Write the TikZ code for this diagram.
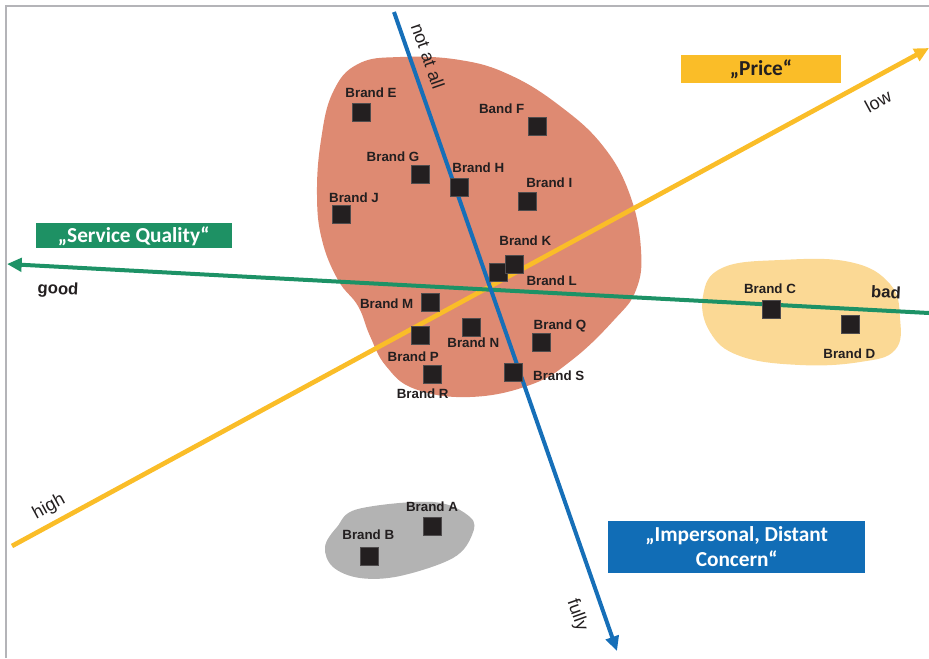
\documentclass[tikz,border=0pt]{standalone}
\usepackage{fontspec}
\setmainfont{Liberation Sans}
\newfontfamily\boxfont{Carlito}
\usetikzlibrary{arrows.meta}

\definecolor{ink}{HTML}{231F20}
\definecolor{framegray}{HTML}{B4B4B8}
\definecolor{blobsalmon}{HTML}{DE8A72}
\definecolor{blobsand}{HTML}{FBD995}
\definecolor{blobgray}{HTML}{B3B3B3}
\definecolor{axisblue}{HTML}{166FB8}
\definecolor{axisgreen}{HTML}{1D9266}
\definecolor{axisorange}{HTML}{FABD28}
\definecolor{boxblue}{HTML}{116DB6}
\definecolor{boxgreen}{HTML}{1E9164}

\tikzset{
  axis/.style={line width=3pt, -{Triangle[length=11pt,width=10pt]}},
  brandbox/.style={fill=ink, draw=ink!80!white, line width=0.3pt, minimum size=13.5pt, inner sep=0pt},
  brandlabel/.style={text=ink, inner sep=0pt, font=\bfseries\fontsize{10}{12}\selectfont},
  axislabel/.style={text=ink, inner sep=0pt, font=\fontsize{13.5}{16}\selectfont},
  polelabel/.style={text=ink, inner sep=0pt, font=\bfseries\fontsize{12.5}{14}\selectfont},
  titlebox/.style={inner sep=0pt, align=center, font=\boxfont\bfseries\fontsize{16}{19}\selectfont}
}

\begin{document}
\begin{tikzpicture}[x=0.75pt, y=-0.75pt]
\useasboundingbox (0,0) rectangle (929,658);

% frame along the top and left edges
\draw[framegray, line width=1.5pt] (6,658) -- (6,5.5) -- (929,5.5);

% brand clusters
\fill[blobsalmon] plot[smooth cycle, tension=0.7] coordinates {
  (400,57) (460,60) (510,75) (560,106) (603,146) (630,195) (641,250)
  (636,290) (614,320) (572,360) (530,385) (470,397) (415,389) (386,366)
  (370,336) (358,306) (338,280) (322,240) (317,195) (321,140) (333,92) (358,64)};
\fill[blobsand] plot[smooth cycle, tension=0.7] coordinates {
  (722,268) (780,260) (850,262) (890,284) (900,318) (895,350) (860,362)
  (800,365) (740,356) (710,332) (703,296)};
\fill[blobgray] plot[smooth cycle, tension=0.6] coordinates {
  (358,509) (433,502) (470,517) (472,535) (453,558) (400,576) (360,578)
  (333,567) (325,547) (337,527)};

% axes
\coordinate (blueStart) at (394,12);
\coordinate (blueEnd) at (617,651);
\coordinate (greenStart) at (929,313);
\coordinate (greenEnd) at (7,264);
\coordinate (orangeStart) at (12,546);
\coordinate (orangeEnd) at (929,48);
\draw[axis, axisorange, line width=3.5pt] (orangeStart) -- (orangeEnd);
\draw[axis, axisgreen] (greenStart) -- (greenEnd);
\draw[axis, axisblue] (blueStart) -- (blueEnd);

% axis pole labels
\node[axislabel, rotate=-70.7] (notatall) at (428,56) {not at all};
\node[axislabel, rotate=-70.7] (fully) at (577,615) {fully};
\node[axislabel, rotate=28.5] (low) at (878,101) {low};
\node[axislabel, rotate=28.5] (high) at (49,507) {high};
\node[polelabel, rotate=-3] (good) at (58,290) {good};
\node[polelabel, rotate=-3] (bad) at (886,292) {bad};

% dimension titles
\node[titlebox, fill=axisorange, text=ink, minimum width=120pt, minimum height=21.2pt] (price) at (761,69.2) {„Price“};
\node[titlebox, fill=boxgreen, text=white, minimum width=146.8pt, minimum height=18.8pt] (service) at (133.8,235.8) {„Service Quality“};
\node[titlebox, fill=boxblue, text=white, minimum width=192.5pt, minimum height=38.8pt] (concern) at (736.7,546.8) {„Impersonal, Distant\\Concern“};

% brand markers
\node[brandbox] (sqE) at (360.7,111.7) {};
\node[brandbox] (sqF) at (537.3,125.7) {};
\node[brandbox] (sqG) at (420,174.3) {};
\node[brandbox] (sqH) at (459,186.7) {};
\node[brandbox] (sqI) at (526.7,200.7) {};
\node[brandbox] (sqJ) at (341.3,214.3) {};
\node[brandbox] (sqL) at (497.7,271.7) {};
\node[brandbox] (sqK) at (514.3,264) {};
\node[brandbox] (sqM) at (430,302.3) {};
\node[brandbox] (sqP) at (420,335) {};
\node[brandbox] (sqN) at (470.7,326.7) {};
\node[brandbox] (sqQ) at (541,342.3) {};
\node[brandbox] (sqR) at (432,374) {};
\node[brandbox] (sqS) at (513.3,372.3) {};
\node[brandbox] (sqC) at (770.7,309) {};
\node[brandbox] (sqD) at (850,324) {};
\node[brandbox] (sqA) at (432,525.7) {};
\node[brandbox] (sqB) at (369.3,555.7) {};

% brand names
\node[brandlabel] (lbE) at (371,92.7) {Brand E};
\node[brandlabel] (lbF) at (501.7,108.3) {Band F};
\node[brandlabel] (lbG) at (393,156.7) {Brand G};
\node[brandlabel] (lbH) at (478.3,167.7) {Brand H};
\node[brandlabel] (lbI) at (549.3,182.7) {Brand I};
\node[brandlabel] (lbJ) at (354,197.7) {Brand J};
\node[brandlabel] (lbK) at (525.3,240.7) {Brand K};
\node[brandlabel] (lbL) at (551.7,280.7) {Brand L};
\node[brandlabel] (lbM) at (386.7,304) {Brand M};
\node[brandlabel] (lbP) at (413.3,356.7) {Brand P};
\node[brandlabel] (lbN) at (473.3,342.7) {Brand N};
\node[brandlabel] (lbQ) at (560,325.7) {Brand Q};
\node[brandlabel] (lbR) at (422.7,394) {Brand R};
\node[brandlabel] (lbS) at (558.7,375.7) {Brand S};
\node[brandlabel] (lbC) at (770,288.3) {Brand C};
\node[brandlabel] (lbD) at (849.3,353.3) {Brand D};
\node[brandlabel] (lbA) at (432,506.7) {Brand A};
\node[brandlabel] (lbB) at (368.3,534.3) {Brand B};
\end{tikzpicture}
\end{document}
